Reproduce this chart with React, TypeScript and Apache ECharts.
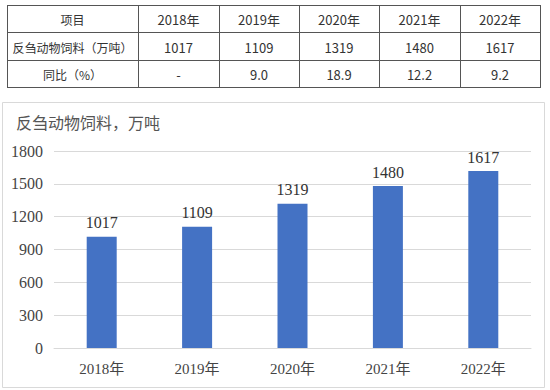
import React, { useEffect, useRef } from "react";
import * as echarts from "echarts";

const years = ["2018年", "2019年", "2020年", "2021年", "2022年"];
const values = [1017, 1109, 1319, 1480, 1617];
const yoy = ["-", "9.0", "18.9", "12.2", "9.2"];
const rowHeads = ["项目", "反刍动物饲料（万吨）", "同比（%）"];
const chartTitle = "反刍动物饲料，万吨";

const SERIF = "'Liberation Serif', 'Times New Roman', 'Noto Sans CJK SC', serif";
const SANS = "'Noto Sans CJK SC', 'Open Sans', sans-serif";

export default function App() {
  const ref = useRef<HTMLDivElement>(null);
  useEffect(() => {
    if (!ref.current) return;
    const chart = echarts.init(ref.current, undefined, { renderer: "svg" });

    const colX = [7, 138, 219, 299, 379, 460, 540];
    const rowY = [5, 32, 60, 87];
    const rows: string[][] = [
      [rowHeads[0], ...years],
      [rowHeads[1], ...values.map(String)],
      [rowHeads[2], ...yoy],
    ];
    const graphics: any[] = [];
    graphics.push({
      type: "rect",
      shape: { x: 2.5, y: 102.5, width: 542, height: 285 },
      style: { fill: "none", stroke: "#d9d9d9", lineWidth: 1 },
      z: -1,
    });
    rowY.forEach((y) =>
      graphics.push({
        type: "line",
        shape: { x1: colX[0], y1: y + 0.5, x2: colX[colX.length - 1] + 1, y2: y + 0.5 },
        style: { stroke: "#555", lineWidth: 1 },
      })
    );
    colX.forEach((x) =>
      graphics.push({
        type: "line",
        shape: { x1: x + 0.5, y1: rowY[0], x2: x + 0.5, y2: rowY[rowY.length - 1] + 1 },
        style: { stroke: "#555", lineWidth: 1 },
      })
    );
    rows.forEach((r, ri) => {
      r.forEach((t, ci) => {
        graphics.push({
          type: "text",
          x: (colX[ci] + colX[ci + 1]) / 2,
          y: (rowY[ri] + rowY[ri + 1]) / 2 + 1,
          style: {
            text: t,
            fill: "#333",
            font: `${ci === 0 ? 12 : 13}px ${SANS}`,
            align: "center",
            verticalAlign: "middle",
          },
        });
      });
    });
    graphics.push({
      type: "text",
      x: 16,
      y: 123,
      style: {
        text: chartTitle,
        fill: "#555",
        font: `16px ${SERIF}`,
        align: "left",
        verticalAlign: "middle",
      },
    });

    chart.setOption({
      animation: false,
      backgroundColor: "#fff",
      graphic: graphics,
      grid: { left: 54, right: 19, top: 151, bottom: 42, containLabel: false },
      xAxis: {
        type: "category",
        data: years,
        axisLine: { show: true, lineStyle: { color: "#d9d9d9" } },
        axisTick: { show: false },
        axisLabel: {
          color: "#444",
          fontFamily: SERIF,
          fontSize: 15,
          margin: 13,
        },
      },
      yAxis: {
        type: "value",
        min: 0,
        max: 1800,
        interval: 300,
        axisLine: { show: false },
        axisTick: { show: false },
        splitLine: { lineStyle: { color: "#d9d9d9", width: 1 } },
        axisLabel: {
          color: "#444",
          fontFamily: SERIF,
          fontSize: 16,
          margin: 11,
          formatter: (v: number) => String(v),
        },
      },
      series: [
        {
          type: "bar",
          data: values,
          barWidth: 30,
          itemStyle: { color: "#4472C4" },
          label: {
            show: true,
            position: "top",
            distance: 6,
            color: "#333",
            fontFamily: SERIF,
            fontSize: 16,
          },
        },
      ],
    });
    return () => chart.dispose();
  }, []);
  return (
    <div
      ref={ref}
      style={{ position: "fixed", left: 0, top: 0, width: 550, height: 390, background: "#fff" }}
    />
  );
}
